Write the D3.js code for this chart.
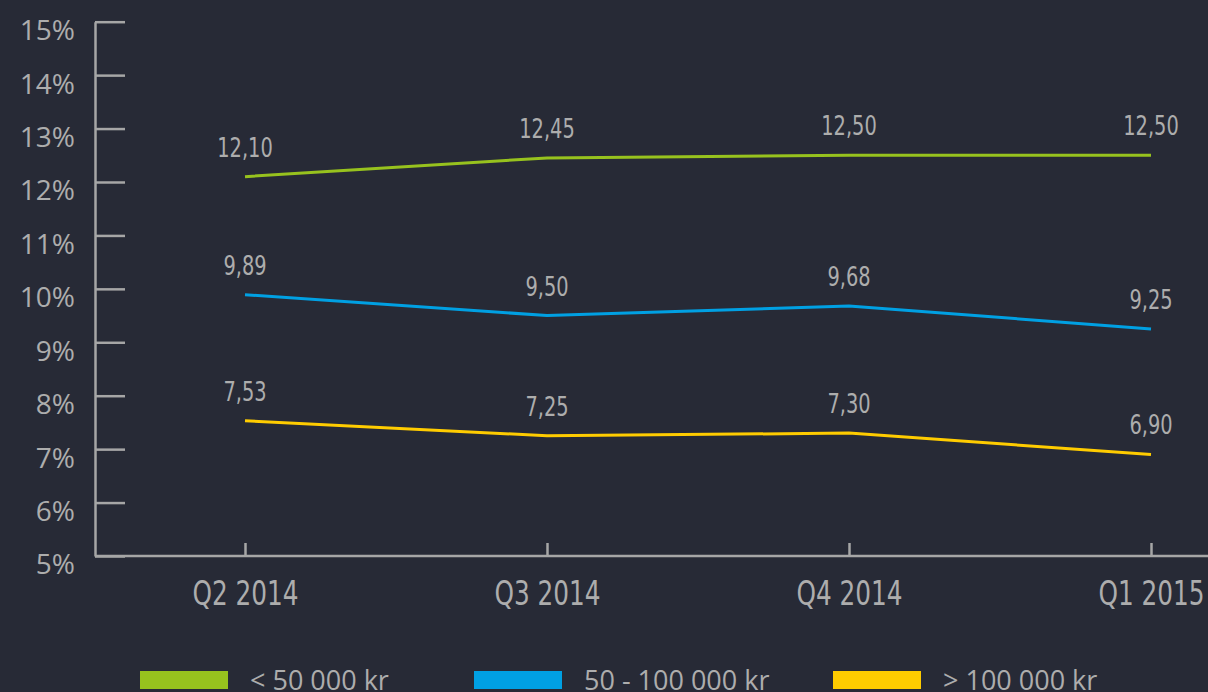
<!DOCTYPE html>
<html>
<head>
<meta charset="utf-8">
<script src="https://cdn.jsdelivr.net/npm/d3@7"></script>
<style>
  html, body { margin: 0; padding: 0; background: #272a36; }
  svg { display: block; }
</style>
</head>
<body>
<svg id="chart" width="1208" height="692"></svg>
<script>
const categories = ["Q2 2014", "Q3 2014", "Q4 2014", "Q1 2015"];
const seriesNames = ["< 50 000 kr", "50 - 100 000 kr", "> 100 000 kr"];
const seriesColors = ["#97c21e", "#00a0e3", "#ffcc00"];
const lowValues = [12.10, 12.45, 12.50, 12.50];
const midValues = [9.89, 9.50, 9.68, 9.25];
const highValues = [7.53, 7.25, 7.30, 6.90];
const yTicks = [5, 6, 7, 8, 9, 10, 11, 12, 13, 14, 15];

const series = [lowValues, midValues, highValues].map((vals, i) => ({
  name: seriesNames[i], color: seriesColors[i], values: vals
}));

const W = 1208, H = 692;
const axisColor = "#a6a6a6";
const textColor = "#adadad";
const condFont = "'DejaVu Sans Condensed', 'DejaVu Sans', sans-serif";
const humanFont = "'Open Sans', 'Noto Sans', sans-serif";

const svg = d3.select("#chart");
svg.append("rect").attr("width", W).attr("height", H).attr("fill", "#272a36");

const x = d3.scalePoint().domain(categories).range([245, 1151]);
const y = d3.scaleLinear().domain([5, 15]).range([556, 21.7]);

// Y axis
const yAxis = d3.axisLeft(y).tickValues(yTicks).tickFormat(d => d + "%")
  .tickSizeInner(-30).tickSizeOuter(0).tickPadding(20);
const gy = svg.append("g").attr("transform", "translate(95,0)").call(yAxis);
gy.select(".domain").attr("stroke", axisColor).attr("stroke-width", 2.5);
gy.selectAll(".tick line").attr("stroke", axisColor).attr("stroke-width", 2.5);
gy.selectAll(".tick text").attr("fill", textColor)
  .style("font-family", humanFont).style("font-size", "28px")
  .attr("dy", "0.32em").attr("y", 9);

// X axis
svg.append("line").attr("x1", 95).attr("x2", W).attr("y1", 556).attr("y2", 556)
  .attr("stroke", axisColor).attr("stroke-width", 2.5);
const xAxis = d3.axisBottom(x).tickSizeInner(-13).tickSizeOuter(0).tickPadding(25);
const gx = svg.append("g").attr("transform", "translate(0,556)").call(xAxis);
gx.select(".domain").remove();
gx.selectAll(".tick line").attr("stroke", axisColor).attr("stroke-width", 2.5);
gx.selectAll(".tick text").attr("fill", textColor)
  .style("font-family", condFont).style("font-size", "34px")
  .attr("transform", "scale(0.81,1)");

// Lines
const line = d3.line().x((d, i) => x(categories[i])).y(d => y(d));
svg.selectAll("path.series").data(series).enter().append("path")
  .attr("class", "series")
  .attr("d", d => line(d.values))
  .attr("fill", "none").attr("stroke", d => d.color).attr("stroke-width", 3);

// Data labels
const fmt = v => v.toFixed(2).replace(".", ",");
series.forEach(s => {
  svg.selectAll(null).data(s.values).enter().append("g")
    .attr("transform", (d, i) => `translate(${x(categories[i])},${y(d) - 20})`)
    .append("text")
    .attr("text-anchor", "middle")
    .attr("transform", "scale(0.83,1)")
    .attr("fill", textColor)
    .style("font-family", condFont).style("font-size", "26px")
    .text(d => fmt(d));
});

// Legend
const legendX = [140, 474, 833];
const lg = svg.selectAll("g.legend").data(series).enter().append("g")
  .attr("class", "legend")
  .attr("transform", (d, i) => `translate(${legendX[i]},671)`);
lg.append("rect").attr("width", 88).attr("height", 18).attr("fill", d => d.color);
lg.append("text").attr("x", 110).attr("y", 9).attr("dy", "0.36em")
  .attr("fill", textColor)
  .style("font-family", humanFont).style("font-size", "27px")
  .text(d => d.name);
</script>
</body>
</html>
